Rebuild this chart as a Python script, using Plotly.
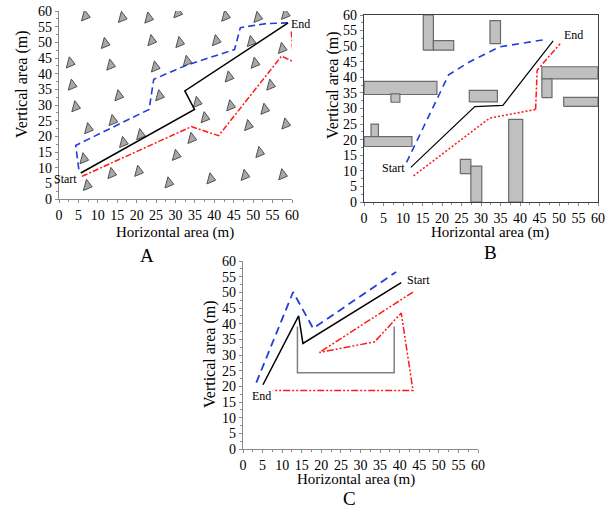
import plotly.graph_objects as go

# ---------------- Panel A data ----------------
a_obs_x = [6.8, 16.3, 23.1, 30.6, 42.9, 51.2, 58.3, 11.9, 23.9, 31.1, 40.5, 49.5,
           2.9, 13.3, 24.8, 33.0, 50.5, 57.5, 3.4, 15.4, 25.9, 43.8, 54.5, 4.3,
           35.6, 44.2, 53.0, 7.6, 13.9, 21.0, 37.6, 48.8, 58.4, 16.6, 34.2, 6.4,
           30.2, 51.7, 13.6, 20.5, 7.3, 28.3, 39.1, 47.9, 57.6]
a_obs_y = [58.4, 57.9, 57.7, 59.4, 58.3, 57.9, 58.9, 49.6, 50.5, 49.9, 50.5, 50.2,
           43.4, 42.7, 42.1, 43.9, 43.3, 48.0, 36.3, 32.9, 32.9, 38.9, 36.3, 29.4,
           30.8, 29.7, 28.6, 22.4, 25.0, 20.5, 25.9, 23.4, 23.9, 18.0, 19.3, 12.8,
           13.9, 14.8, 8.1, 8.8, 4.3, 5.1, 6.4, 7.5, 7.7]
a_black_x = [5.6, 34.9, 32.4, 59.0]
a_black_y = [8.3, 28.6, 34.5, 56.2]
a_blue_x = [5.1, 4.3, 23.2, 24.4, 32.8, 45.2, 46.7, 53.4, 59.0]
a_blue_y = [9.5, 17.1, 28.6, 38.2, 42.7, 47.7, 54.7, 56.0, 56.2]
a_red_x = [5.9, 34.1, 41.1, 57.3, 60.4, 59.8]
a_red_y = [7.2, 23.1, 20.2, 45.6, 43.8, 53.9]

# ---------------- Panel B data ----------------
b_rect_x0 = [15.2, 17.8, 32.3, 0.0, 6.9, 1.8, 0.0, 27.0, 24.7, 27.4, 37.1, 45.6, 45.6, 51.2]
b_rect_x1 = [17.8, 23.0, 35.0, 18.7, 9.2, 3.7, 12.3, 34.2, 27.4, 30.2, 40.7, 60.0, 48.2, 60.0]
b_rect_y0 = [48.7, 48.7, 50.8, 34.5, 32.0, 21.0, 17.8, 32.1, 9.1, 0.0, 0.0, 39.5, 33.5, 30.7]
b_rect_y1 = [60.0, 51.8, 58.2, 38.7, 34.7, 25.0, 21.0, 35.8, 13.7, 11.5, 26.5, 43.4, 39.5, 33.6]
b_black_x = [12.0, 28.4, 35.6, 48.5]
b_black_y = [11.1, 30.6, 31.0, 51.7]
b_blue_x = [10.9, 21.7, 27.1, 34.8, 46.9]
b_blue_y = [12.7, 40.8, 45.0, 49.8, 52.2]
b_red1_x = [12.7, 32.2, 44.0]
b_red1_y = [8.4, 26.9, 29.7]
b_red2_x = [44.0, 44.4, 50.3]
b_red2_y = [29.7, 42.3, 50.8]

# ---------------- Panel C data ----------------
c_black_x = [5.1, 14.2, 15.3, 40.4]
c_black_y = [20.5, 42.5, 33.7, 53.1]
c_blue_x = [3.4, 12.8, 17.9, 39.1]
c_blue_y = [21.2, 50.1, 38.5, 56.5]
c_gray_x = [13.9, 13.9, 38.6, 38.6]
c_gray_y = [39.1, 24.3, 24.3, 39.1]
c_red_x = [43.4, 19.5, 33.6, 40.4, 43.4, 7.6]
c_red_y = [50.1, 30.8, 34.2, 43.4, 18.7, 18.7]

tick_vals = list(range(0, 61, 5))
tick_text = [str(v) for v in tick_vals]
x_title = "Horizontal area (m)"
y_title = "Vertical area (m)"

FONT = "Liberation Serif"
fig = go.Figure()

# Panel A
fig.add_trace(go.Scatter(x=a_obs_x, y=a_obs_y, mode="markers", xaxis="x", yaxis="y",
                         marker=dict(symbol="triangle-right", size=10, angle=15,
                                     color="#a8a8a8", line=dict(color="#505050", width=1)),
                         showlegend=False))
fig.add_trace(go.Scatter(x=a_blue_x, y=a_blue_y, mode="lines", xaxis="x", yaxis="y",
                         line=dict(color="#1f3fd8", width=1.6, dash="7px,4px"), showlegend=False))
fig.add_trace(go.Scatter(x=a_black_x, y=a_black_y, mode="lines", xaxis="x", yaxis="y",
                         line=dict(color="black", width=1.5), showlegend=False))
fig.add_trace(go.Scatter(x=a_red_x, y=a_red_y, mode="lines", xaxis="x", yaxis="y",
                         line=dict(color="#ff1a1a", width=1.5, dash="6px,2px,2px,2px"), showlegend=False))

# Panel B rectangles
for x0, x1, y0, y1 in zip(b_rect_x0, b_rect_x1, b_rect_y0, b_rect_y1):
    fig.add_trace(go.Scatter(x=[x0, x1, x1, x0, x0], y=[y0, y0, y1, y1, y0], mode="lines",
                             xaxis="x2", yaxis="y2", fill="toself", fillcolor="#c0c0c0",
                             line=dict(color="#6a6a6a", width=1.2), showlegend=False, hoverinfo="skip"))
fig.add_trace(go.Scatter(x=b_blue_x, y=b_blue_y, mode="lines", xaxis="x2", yaxis="y2",
                         line=dict(color="#1f3fd8", width=1.6, dash="7px,5px"), showlegend=False))
fig.add_trace(go.Scatter(x=b_black_x, y=b_black_y, mode="lines", xaxis="x2", yaxis="y2",
                         line=dict(color="black", width=1.2), showlegend=False))
fig.add_trace(go.Scatter(x=b_red1_x, y=b_red1_y, mode="lines", xaxis="x2", yaxis="y2",
                         line=dict(color="#ff1a1a", width=1.6, dash="2px,2px"), showlegend=False))
fig.add_trace(go.Scatter(x=b_red2_x, y=b_red2_y, mode="lines", xaxis="x2", yaxis="y2",
                         line=dict(color="#ff1a1a", width=1.5, dash="6px,2px,2px,2px"), showlegend=False))

# Panel C
fig.add_trace(go.Scatter(x=c_gray_x, y=c_gray_y, mode="lines", xaxis="x3", yaxis="y3",
                         line=dict(color="#808080", width=1.5), showlegend=False))
fig.add_trace(go.Scatter(x=c_blue_x, y=c_blue_y, mode="lines", xaxis="x3", yaxis="y3",
                         line=dict(color="#1f3fd8", width=1.8, dash="8px,5px"), showlegend=False))
fig.add_trace(go.Scatter(x=c_black_x, y=c_black_y, mode="lines", xaxis="x3", yaxis="y3",
                         line=dict(color="black", width=1.5), showlegend=False))
fig.add_trace(go.Scatter(x=c_red_x, y=c_red_y, mode="lines", xaxis="x3", yaxis="y3",
                         line=dict(color="#ff1a1a", width=1.5, dash="7px,2px,2px,2px,2px,2px"), showlegend=False))


def ax(domain, anchor, boxed=False):
    return dict(domain=domain, anchor=anchor, range=[0, 60], tickvals=tick_vals, ticktext=tick_text,
                showgrid=False, zeroline=False, showline=True, automargin=False,
                linecolor="#404040" if boxed else "#8a8a8a", linewidth=1.3,
                ticks="outside", ticklen=3, tickcolor="#8a8a8a", tickwidth=1,
                minor=dict(dtick=2.5, ticks="outside", ticklen=2, tickcolor="#8a8a8a"),
                tickfont=dict(family=FONT, size=14, color="black"),
                mirror=boxed, fixedrange=True)


W, H = 614, 509
# pixel boxes (left, right, top, bottom)
A = (59, 292, 11, 199)
B = (364, 598, 15, 202)
C = (243, 478, 261, 449)


def dom(box):
    l, r, t, b = box
    return [l / W, r / W], [(H - b) / H, (H - t) / H]


ax_dx, ax_dy = dom(A)
bx_dx, bx_dy = dom(B)
cx_dx, cx_dy = dom(C)

fig.update_layout(
    width=W, height=H, margin=dict(l=0, r=0, t=0, b=0, autoexpand=False),
    paper_bgcolor="white", plot_bgcolor="white",
    font=dict(family=FONT, color="black"),
    xaxis=ax(ax_dx, "y"),
    yaxis=ax(ax_dy, "x"),
    xaxis2=ax(bx_dx, "y2", boxed=True),
    yaxis2=ax(bx_dy, "x2", boxed=True),
    xaxis3=ax(cx_dx, "y3"),
    yaxis3=ax(cx_dy, "x3"),
)


def paper_text(px, py, text, size, angle=0):
    return dict(x=px / W, y=1 - py / H, xref="paper", yref="paper", text=text, showarrow=False,
                textangle=angle, xanchor="center", yanchor="middle",
                font=dict(family=FONT, size=size, color="black"))


ann = [
    dict(x=5.2, y=6.3, xref="x", yref="y", text="Start", xanchor="right", showarrow=False,
         font=dict(family=FONT, size=12)),
    dict(x=59.2, y=55.8, xref="x", yref="y", text="End", xanchor="left", showarrow=False,
         font=dict(family=FONT, size=12)),
    dict(x=11.0, y=11.0, xref="x2", yref="y2", text="Start", xanchor="right", showarrow=False,
         font=dict(family=FONT, size=12)),
    dict(x=50.8, y=53.6, xref="x2", yref="y2", text="End", xanchor="left", showarrow=False,
         font=dict(family=FONT, size=12)),
    dict(x=41.4, y=54.0, xref="x3", yref="y3", text="Start", xanchor="left", showarrow=False,
         font=dict(family=FONT, size=12)),
    dict(x=4.6, y=16.8, xref="x3", yref="y3", text="End", xanchor="center", showarrow=False,
         font=dict(family=FONT, size=12)),
    # axis titles
    paper_text(175, 233, x_title, 15),
    paper_text(22, 85, y_title, 16, -90),
    paper_text(490, 233, x_title, 15),
    paper_text(333, 86, y_title, 16, -90),
    paper_text(356, 479, x_title, 15),
    paper_text(210, 355, y_title, 16, -90),
    # panel letters
    paper_text(147, 255, "A", 19),
    paper_text(490, 253, "B", 19),
    paper_text(349, 498, "C", 19),
]
fig.update_layout(annotations=ann)

fig.write_html("out.html", config={"displayModeBar": False},
               post_script="document.body.style.margin='0';document.body.style.padding='0';")
